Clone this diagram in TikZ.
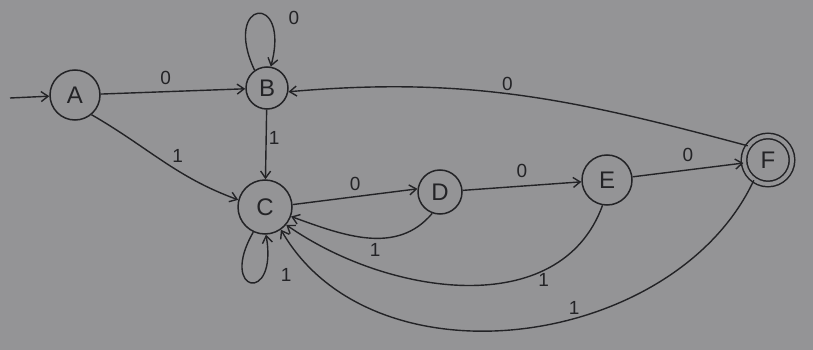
\documentclass[tikz,border=0pt]{standalone}
\usepackage{fontspec}
\setmainfont{Liberation Sans}
\usetikzlibrary{arrows.meta}
\definecolor{paper}{RGB}{148,148,150}
\definecolor{ink}{RGB}{35,35,38}
\begin{document}
\begin{tikzpicture}[x=1pt,y=-1pt,
  state/.style={circle,draw=ink,line width=1.5pt,inner sep=0pt,font=\fontsize{24}{24}\selectfont,text=ink},
  acc/.style={state,double=paper,double distance=4pt},
  edge/.style={draw=ink,line width=1.4pt,-{Straight Barb[length=7pt,width=10pt]}},
  lbl/.style={font=\fontsize{19}{19}\selectfont,text=ink,inner sep=2pt}]
\fill[paper] (0,0) rectangle (813,350);
\useasboundingbox (0,0) rectangle (813,350);
\node[state,minimum size=50pt] (A) at (75,95) {A};
\node[state,minimum size=42pt] (B) at (267,88) {B};
\node[state,minimum size=54pt] (C) at (265,207) {C};
\node[state,minimum size=44pt] (D) at (440,192) {D};
\node[state,minimum size=50pt] (E) at (607,180) {E};
\node[acc,minimum size=48pt] (F) at (768,160) {F};
\coordinate (start) at (10,98);
\draw[edge] (start) -- (A);
\draw[edge] (A) -- node[lbl,above,pos=0.45,yshift=4pt] {0} (B);
\draw[edge] (A.-50) to[out=-30,in=160] node[lbl,above right,pos=0.55] {1} (C.165);
\draw[edge] (B) -- node[lbl,right,pos=0.4] {1} (C);
\draw[edge] (B.125) to[out=115,in=75,looseness=12] node[lbl,right,pos=0.5,xshift=28pt,yshift=-4pt] {0} (B.80);
\draw[edge] (C.5) -- node[lbl,above,yshift=3pt] {0} (D.172);
\draw[edge] (D.-110) to[out=-130,in=-20] node[lbl,below,pos=0.45,yshift=-2pt] {1} (C.-20);
\draw[edge] (D) -- node[lbl,above,yshift=6pt] {0} (E);
\draw[edge] (E) -- node[lbl,above,yshift=6pt] {0} (F);
\draw[edge] (F.145) to[out=165,in=5] node[lbl,above,pos=0.53] {0} (B.-10);
\draw[edge] (E.-100) to[out=-110,in=-35] node[lbl,below,pos=0.27] {1} (C.-40);
\draw[edge] (F.-125) to[out=-115,in=-60] node[lbl,above,pos=0.4,xshift=-6pt] {1} (C.-55);
\draw[edge] (C.-115) to[out=-120,in=-80,looseness=14] node[lbl,right,pos=0.75,xshift=14pt,yshift=-3pt] {1} (C.-88);
\end{tikzpicture}
\end{document}
